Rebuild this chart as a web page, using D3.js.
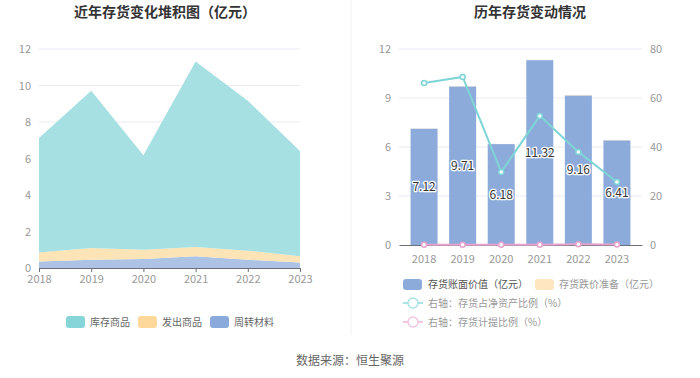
<!DOCTYPE html>
<html>
  <head>
    <meta charset="utf-8" />
    <title>存货</title>
    <script src="https://d3js.org/d3.v7.min.js"></script>
    <style>
      body { margin: 0; background: #fff; }
      text { font-family: "Noto Sans CJK SC", "Noto Sans", sans-serif; }
    </style>
  </head>
  <body>
    <script>
      // data
      const years = ['2018', '2019', '2020', '2021', '2022', '2023'];
      const kucun = [6.27, 8.61, 5.18, 10.17, 8.21, 5.76];
      const fachu = [0.5, 0.65, 0.5, 0.5, 0.5, 0.35];
      const zhouzhuan = [0.35, 0.45, 0.5, 0.65, 0.45, 0.3];
      const bookValue = [7.12, 9.71, 6.18, 11.32, 9.16, 6.41];
      const impairment = [0.01, 0.02, 0.01, 0.02, 0.03, 0.02];
      const ratioNetAsset = [66.1, 68.6, 29.8, 52.7, 38.0, 25.7];
      const ratioProvision = [0.1, 0.1, 0.1, 0.1, 0.3, 0.2];
      const leftTicks = [0, 2, 4, 6, 8, 10, 12];
      const barTicks = [0, 3, 6, 9, 12];
      const pctTicks = [0, 20, 40, 60, 80];

      const svg = d3.select('body').append('svg').attr('width', 700).attr('height', 378);

      const gridColor = '#e8ebf2';
      const labelColor = '#999';

      // titles
      svg.append('text').attr('x', 165).attr('y', 17).attr('text-anchor', 'middle')
        .style('font-size', '14px').style('font-weight', 'bold').attr('fill', '#333')
        .text('近年存货变化堆积图（亿元）');
      svg.append('text').attr('x', 530).attr('y', 17).attr('text-anchor', 'middle')
        .style('font-size', '14px').style('font-weight', 'bold').attr('fill', '#333')
        .text('历年存货变动情况');

      // divider
      svg.append('line').attr('x1', 351).attr('x2', 351).attr('y1', 0).attr('y2', 335)
        .attr('stroke', '#f0f0f0');

      // ---- left stacked area
      const x1 = d3.scalePoint().domain(years).range([39, 300]);
      const y1 = d3.scaleLinear().domain([0, 12]).range([268, 49]);

      const g1 = svg.append('g');
      g1.selectAll('.grid').data(leftTicks.slice(1)).join('line')
        .attr('x1', 39).attr('x2', 300).attr('y1', d => y1(d)).attr('y2', d => y1(d))
        .attr('stroke', gridColor);

      const rows = years.map((yr, i) => ({ year: yr, zhouzhuan: zhouzhuan[i], fachu: fachu[i], kucun: kucun[i] }));
      const stack = d3.stack().keys(['zhouzhuan', 'fachu', 'kucun'])(rows);
      const areaColors = { kucun: '#a6e0e2', fachu: '#fde4b6', zhouzhuan: '#adc3e6' };
      const area = d3.area().x(d => x1(d.data.year)).y0(d => y1(d[0])).y1(d => y1(d[1]));
      g1.selectAll('.area').data(stack).join('path')
        .attr('d', area).attr('fill', d => areaColors[d.key]);

      const axL = g1.append('g').attr('transform', 'translate(39,0)')
        .call(d3.axisLeft(y1).tickValues(leftTicks).tickSize(0).tickPadding(8));
      axL.select('.domain').remove();
      axL.selectAll('text').attr('fill', labelColor).style('font-size', '11px');

      const axB = g1.append('g').attr('transform', 'translate(0,268)')
        .call(d3.axisBottom(x1).tickSize(4).tickSizeOuter(0).tickPadding(3));
      axB.select('.domain').attr('stroke', '#6e7079');
      axB.selectAll('line').attr('stroke', '#6e7079');
      axB.selectAll('text').attr('fill', labelColor).style('font-size', '11px');

      // left legend
      const leg1 = [['库存商品', '#86d5d8'], ['发出商品', '#fdd89a'], ['周转材料', '#8aaadb']];
      const lg1 = svg.append('g').selectAll('g').data(leg1).join('g')
        .attr('transform', (d, i) => `translate(${66 + i * 72},316)`);
      lg1.append('rect').attr('width', 19).attr('height', 12).attr('rx', 3).attr('fill', d => d[1]);
      lg1.append('text').attr('x', 24).attr('y', 10).style('font-size', '10px').attr('fill', '#666').text(d => d[0]);

      // ---- right bar + line
      const x2 = d3.scaleBand().domain(years).range([399, 642]).padding(0.3);
      const y2 = d3.scaleLinear().domain([0, 12]).range([245, 49]);
      const y3 = d3.scaleLinear().domain([0, 80]).range([245, 49]);
      const g2 = svg.append('g');

      g2.selectAll('.grid').data(barTicks.slice(1)).join('line')
        .attr('x1', 399).attr('x2', 642).attr('y1', d => y2(d)).attr('y2', d => y2(d))
        .attr('stroke', gridColor);

      g2.selectAll('.bar').data(years).join('rect')
        .attr('x', d => x2(d)).attr('width', x2.bandwidth())
        .attr('y', (d, i) => y2(bookValue[i])).attr('height', (d, i) => y2(0) - y2(bookValue[i]))
        .attr('fill', '#8cabdb');
      g2.selectAll('.imp').data(years).join('rect')
        .attr('x', d => x2(d)).attr('width', x2.bandwidth())
        .attr('y', (d, i) => y2(bookValue[i] + impairment[i]))
        .attr('height', (d, i) => y2(bookValue[i]) - y2(bookValue[i] + impairment[i]))
        .attr('fill', '#fde6c0');

      const axR = g2.append('g').attr('transform', 'translate(399,0)')
        .call(d3.axisLeft(y2).tickValues(barTicks).tickSize(0).tickPadding(8));
      axR.select('.domain').remove();
      axR.selectAll('text').attr('fill', labelColor).style('font-size', '11px');
      const axR2 = g2.append('g').attr('transform', 'translate(642,0)')
        .call(d3.axisRight(y3).tickValues(pctTicks).tickSize(0).tickPadding(8));
      axR2.select('.domain').remove();
      axR2.selectAll('text').attr('fill', labelColor).style('font-size', '11px');

      const axB2 = g2.append('g').attr('transform', 'translate(0,245)')
        .call(d3.axisBottom(x2).tickSize(0).tickPadding(10));
      axB2.select('.domain').attr('stroke', '#6e7079');
      axB2.selectAll('text').attr('fill', labelColor).style('font-size', '11px');

      const cx = d => x2(d) + x2.bandwidth() / 2;
      const drawLine = (vals, color) => {
        g2.append('path').datum(vals)
          .attr('d', d3.line().x((d, i) => cx(years[i])).y(d => y3(d)))
          .attr('fill', 'none').attr('stroke', color).attr('stroke-width', 2);
        g2.selectAll(null).data(vals).join('circle')
          .attr('cx', (d, i) => cx(years[i])).attr('cy', d => y3(d)).attr('r', 2.5)
          .attr('fill', '#fff').attr('stroke', color).attr('stroke-width', 1.5);
      };
      drawLine(ratioNetAsset, '#7fd4d6');
      drawLine(ratioProvision, '#e6a3cd');

      g2.selectAll('.lbl').data(years).join('text')
        .attr('x', d => cx(d)).attr('y', (d, i) => y2(bookValue[i] / 2) + 4)
        .attr('text-anchor', 'middle').style('font-size', '12px')
        .attr('fill', '#333').attr('stroke', '#fff').attr('stroke-width', 2.5)
        .attr('paint-order', 'stroke').attr('stroke-linejoin', 'round')
        .text((d, i) => bookValue[i].toFixed(2));

      // right legend
      const lg2 = svg.append('g');
      lg2.append('rect').attr('x', 403).attr('y', 279).attr('width', 19).attr('height', 11).attr('rx', 3).attr('fill', '#8cabdb');
      lg2.append('text').attr('x', 428).attr('y', 288).style('font-size', '10px').attr('fill', '#555').text('存货账面价值（亿元）');
      lg2.append('rect').attr('x', 535).attr('y', 279).attr('width', 19).attr('height', 11).attr('rx', 3).attr('fill', '#fde6c0');
      lg2.append('text').attr('x', 559).attr('y', 288).style('font-size', '10px').attr('fill', '#999').text('存货跌价准备（亿元）');
      const lineLeg = [['右轴：存货占净资产比例（%）', '#a9e3e5', 303], ['右轴：存货计提比例（%）', '#f1c6e1', 322]];
      lineLeg.forEach(d => {
        lg2.append('line').attr('x1', 403).attr('x2', 423).attr('y1', d[2]).attr('y2', d[2]).attr('stroke', d[1]).attr('stroke-width', 2);
        lg2.append('circle').attr('cx', 413).attr('cy', d[2]).attr('r', 5).attr('fill', '#fff').attr('stroke', d[1]).attr('stroke-width', 1.5);
        lg2.append('text').attr('x', 428).attr('y', d[2] + 3.5).style('font-size', '10px').attr('fill', '#999').text(d[0]);
      });

      // footer
      svg.append('text').attr('x', 350).attr('y', 365).attr('text-anchor', 'middle')
        .style('font-size', '12px').attr('fill', '#666').text('数据来源：恒生聚源');
    </script>
  </body>
</html>
